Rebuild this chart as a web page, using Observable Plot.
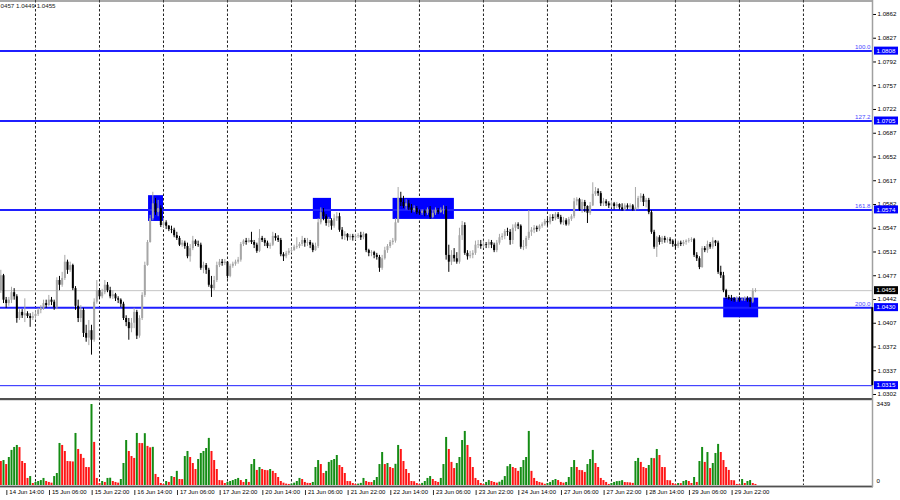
<!DOCTYPE html>
<html>
<head>
<meta charset="utf-8">
<script src="https://cdn.jsdelivr.net/npm/d3@7"></script>
<script src="https://cdn.jsdelivr.net/npm/@observablehq/plot@0.6"></script>
<style>
html, body { margin: 0; padding: 0; background: #fff; }
#chart { position: relative; width: 900px; height: 500px; overflow: hidden; background: #fff; }
#chart svg { position: absolute; left: 0; }
</style>
</head>
<body>
<div id="chart"></div>
<script>
// Hourly EURUSD bars, 14 Jun 11:00 .. 30 Jun 06:00 (weekends skipped)
const firstOpen = 1.0455;
const closes = [
1.0477,1.0441,1.0436,1.0441,1.0452,1.0446,1.0414,1.0423,1.0418,1.0421,1.0417,1.0414,
1.0417,1.0420,1.0426,1.0429,1.0436,1.0433,1.0441,1.0438,1.0430,1.0470,1.0463,1.0473,
1.0497,1.0485,1.0492,1.0458,1.0432,1.0414,1.0426,1.0392,1.0385,1.0396,1.0382,1.0438,
1.0455,1.0446,1.0452,1.0463,1.0455,1.0446,1.0449,1.0443,1.0441,1.0435,1.0414,1.0408,
1.0399,1.0407,1.0423,1.0388,1.0414,1.0448,1.0492,1.0526,1.0561,1.0583,1.0570,1.0576,
1.0551,1.0555,1.0550,1.0545,1.0544,1.0536,1.0532,1.0522,1.0525,1.0520,1.0505,1.0517,
1.0528,1.0523,1.0522,1.0488,1.0492,1.0485,1.0463,1.0458,1.0470,1.0492,1.0497,1.0495,
1.0497,1.0476,1.0491,1.0494,1.0497,1.0500,1.0523,1.0528,1.0526,1.0529,1.0526,1.0522,
1.0513,1.0532,1.0529,1.0525,1.0520,1.0522,1.0535,1.0532,1.0529,1.0508,1.0505,1.0510,
1.0513,1.0514,1.0519,1.0520,1.0523,1.0529,1.0525,1.0526,1.0522,1.0514,1.0520,1.0555,
1.0570,1.0564,1.0554,1.0558,1.0550,1.0561,1.0564,1.0544,1.0535,1.0538,1.0533,1.0535,
1.0533,1.0535,1.0536,1.0533,1.0538,1.0514,1.0510,1.0511,1.0507,1.0504,1.0488,1.0502,
1.0514,1.0520,1.0526,1.0528,1.0555,1.0591,1.0585,1.0579,1.0583,1.0577,1.0573,1.0576,
1.0570,1.0569,1.0572,1.0569,1.0574,1.0563,1.0569,1.0573,1.0570,1.0573,1.0574,1.0507,
1.0497,1.0507,1.0502,1.0497,1.0536,1.0551,1.0510,1.0505,1.0507,1.0510,1.0522,1.0523,
1.0520,1.0523,1.0522,1.0526,1.0522,1.0514,1.0525,1.0533,1.0535,1.0542,1.0541,1.0529,
1.0547,1.0552,1.0550,1.0519,1.0520,1.0532,1.0541,1.0544,1.0547,1.0545,1.0550,1.0552,
1.0557,1.0555,1.0563,1.0561,1.0567,1.0563,1.0555,1.0558,1.0552,1.0560,1.0564,1.0586,
1.0589,1.0574,1.0585,1.0579,1.0569,1.0580,1.0597,1.0601,1.0598,1.0583,1.0586,1.0583,
1.0580,1.0583,1.0579,1.0582,1.0577,1.0574,1.0580,1.0577,1.0580,1.0574,1.0577,1.0591,
1.0594,1.0585,1.0588,1.0570,1.0541,1.0519,1.0533,1.0526,1.0532,1.0529,1.0530,1.0528,
1.0523,1.0520,1.0525,1.0523,1.0526,1.0528,1.0529,1.0530,1.0507,1.0502,1.0489,1.0517,
1.0514,1.0523,1.0519,1.0528,1.0525,1.0482,1.0477,1.0455,1.0445,1.0443,1.0442,1.0441,
1.0443,1.0441,1.0442,1.0443,1.0441,1.0438,1.0454,1.0455
];
const highs = [
1.0485,1.0479,1.0445,1.0445,1.0460,1.0458,1.0449,1.0427,1.0427,1.0443,1.0424,1.0421,
1.0423,1.0424,1.0429,1.0433,1.0441,1.0441,1.0448,1.0445,1.0441,1.0474,1.0476,1.0482,
1.0507,1.0500,1.0497,1.0494,1.0461,1.0441,1.0433,1.0429,1.0404,1.0411,1.0404,1.0443,
1.0470,1.0458,1.0457,1.0470,1.0467,1.0460,1.0455,1.0451,1.0446,1.0443,1.0438,1.0418,
1.0414,1.0414,1.0429,1.0426,1.0418,1.0452,1.0497,1.0529,1.0566,1.0600,1.0591,1.0588,
1.0580,1.0561,1.0558,1.0551,1.0550,1.0547,1.0541,1.0535,1.0529,1.0528,1.0525,1.0523,
1.0535,1.0530,1.0528,1.0525,1.0497,1.0495,1.0488,1.0476,1.0476,1.0497,1.0501,1.0501,
1.0501,1.0498,1.0494,1.0497,1.0500,1.0504,1.0526,1.0530,1.0532,1.0532,1.0541,1.0529,
1.0525,1.0545,1.0535,1.0532,1.0528,1.0525,1.0541,1.0539,1.0536,1.0532,1.0511,1.0513,
1.0517,1.0517,1.0522,1.0533,1.0526,1.0535,1.0532,1.0532,1.0529,1.0525,1.0525,1.0561,
1.0577,1.0576,1.0567,1.0563,1.0561,1.0567,1.0570,1.0569,1.0548,1.0542,1.0539,1.0538,
1.0538,1.0538,1.0539,1.0541,1.0541,1.0539,1.0516,1.0514,1.0513,1.0510,1.0507,1.0507,
1.0519,1.0523,1.0529,1.0532,1.0561,1.0607,1.0600,1.0594,1.0589,1.0588,1.0582,1.0580,
1.0579,1.0574,1.0574,1.0574,1.0577,1.0579,1.0573,1.0577,1.0576,1.0577,1.0580,1.0579,
1.0522,1.0514,1.0517,1.0511,1.0547,1.0557,1.0555,1.0514,1.0513,1.0514,1.0528,1.0529,
1.0529,1.0528,1.0526,1.0530,1.0529,1.0525,1.0529,1.0538,1.0539,1.0545,1.0547,1.0545,
1.0552,1.0555,1.0555,1.0552,1.0529,1.0535,1.0573,1.0548,1.0551,1.0550,1.0552,1.0555,
1.0560,1.0561,1.0567,1.0567,1.0570,1.0570,1.0566,1.0563,1.0561,1.0563,1.0567,1.0591,
1.0592,1.0591,1.0589,1.0588,1.0580,1.0585,1.0614,1.0607,1.0605,1.0601,1.0591,1.0589,
1.0586,1.0586,1.0585,1.0585,1.0583,1.0583,1.0583,1.0583,1.0583,1.0582,1.0607,1.0594,
1.0598,1.0597,1.0591,1.0591,1.0573,1.0544,1.0535,1.0536,1.0535,1.0535,1.0533,1.0533,
1.0530,1.0528,1.0528,1.0528,1.0529,1.0530,1.0532,1.0533,1.0532,1.0511,1.0505,1.0520,
1.0520,1.0528,1.0526,1.0533,1.0529,1.0528,1.0491,1.0482,1.0457,1.0448,1.0448,1.0445,
1.0446,1.0446,1.0445,1.0446,1.0446,1.0445,1.0458,1.0458
];
const lows = [
1.0451,1.0436,1.0429,1.0432,1.0436,1.0441,1.0407,1.0411,1.0414,1.0408,1.0414,1.0401,
1.0411,1.0413,1.0417,1.0421,1.0426,1.0429,1.0432,1.0433,1.0426,1.0427,1.0455,1.0460,
1.0470,1.0479,1.0482,1.0455,1.0426,1.0408,1.0408,1.0386,1.0379,1.0374,1.0360,1.0379,
1.0435,1.0442,1.0443,1.0449,1.0452,1.0443,1.0442,1.0439,1.0436,1.0430,1.0411,1.0402,
1.0382,1.0393,1.0399,1.0383,1.0385,1.0411,1.0445,1.0491,1.0525,1.0558,1.0566,1.0564,
1.0548,1.0547,1.0545,1.0542,1.0539,1.0533,1.0529,1.0520,1.0519,1.0516,1.0502,1.0497,
1.0514,1.0520,1.0519,1.0485,1.0480,1.0479,1.0460,1.0445,1.0455,1.0467,1.0489,1.0491,
1.0492,1.0472,1.0474,1.0488,1.0491,1.0494,1.0497,1.0520,1.0522,1.0525,1.0523,1.0517,
1.0510,1.0511,1.0526,1.0520,1.0517,1.0516,1.0520,1.0528,1.0526,1.0505,1.0498,1.0502,
1.0507,1.0510,1.0513,1.0516,1.0517,1.0520,1.0519,1.0520,1.0517,1.0511,1.0513,1.0517,
1.0552,1.0558,1.0550,1.0548,1.0544,1.0547,1.0557,1.0541,1.0530,1.0529,1.0528,1.0529,
1.0528,1.0529,1.0532,1.0529,1.0530,1.0511,1.0505,1.0505,1.0502,1.0500,1.0482,1.0485,
1.0500,1.0510,1.0517,1.0522,1.0525,1.0554,1.0579,1.0576,1.0574,1.0573,1.0569,1.0570,
1.0567,1.0566,1.0566,1.0564,1.0566,1.0560,1.0561,1.0566,1.0567,1.0569,1.0567,1.0500,
1.0482,1.0492,1.0497,1.0494,1.0494,1.0529,1.0507,1.0500,1.0502,1.0502,1.0507,1.0517,
1.0516,1.0517,1.0517,1.0517,1.0517,1.0511,1.0511,1.0522,1.0529,1.0530,1.0535,1.0522,
1.0523,1.0542,1.0545,1.0516,1.0514,1.0516,1.0529,1.0535,1.0539,1.0541,1.0542,1.0547,
1.0550,1.0550,1.0552,1.0557,1.0558,1.0560,1.0552,1.0551,1.0550,1.0550,1.0557,1.0561,
1.0580,1.0572,1.0569,1.0570,1.0554,1.0566,1.0579,1.0594,1.0594,1.0579,1.0579,1.0579,
1.0576,1.0577,1.0574,1.0576,1.0574,1.0572,1.0572,1.0574,1.0574,1.0572,1.0572,1.0574,
1.0585,1.0579,1.0577,1.0567,1.0538,1.0516,1.0504,1.0522,1.0523,1.0525,1.0525,1.0523,
1.0519,1.0516,1.0517,1.0520,1.0520,1.0522,1.0525,1.0526,1.0504,1.0498,1.0486,1.0488,
1.0511,1.0510,1.0516,1.0516,1.0520,1.0479,1.0473,1.0452,1.0442,1.0441,1.0439,1.0438,
1.0438,1.0438,1.0439,1.0439,1.0438,1.0430,1.0436,1.0452
];
const volumes = [
1020,1060,890,1190,1490,1615,1700,1610,1020,935,300,380,85,
130,170,210,300,170,130,100,380,510,1785,1700,1445,1020,1010,1000,2210,1530,1320,1150,765,760,3439,1830,300,
85,170,130,300,310,170,130,100,255,935,1910,1445,1230,1150,2210,1785,1780,2200,1660,1600,1620,470,340,85,
45,170,130,380,340,600,255,250,1230,1445,1190,935,680,1105,1360,1445,1570,2000,1445,1060,680,210,200,85,
130,170,210,255,300,210,130,255,130,890,1105,640,765,680,640,630,680,600,510,340,170,100,60,45,
60,100,170,300,255,130,90,85,130,765,1060,890,510,600,980,1060,1105,1275,850,765,510,170,165,85,
45,60,90,300,170,130,125,210,340,890,1400,890,935,765,720,900,1700,1530,1020,680,510,170,160,85,
45,90,170,300,380,255,170,130,300,890,2040,1530,980,720,935,1190,1910,2295,1700,1190,765,300,210,85,
45,130,210,170,130,100,140,220,380,800,890,765,720,600,765,1060,1190,2295,600,300,170,130,100,50,
85,130,210,255,210,130,100,130,340,765,1060,765,640,630,555,890,1105,1490,935,765,300,210,130,45,
85,130,165,175,205,125,120,110,90,1020,1150,980,765,720,850,1150,1140,1530,1275,765,760,210,200,85,
45,85,80,170,210,170,85,340,130,1020,1615,980,1400,720,935,1360,1745,1400,1060,765,640,210,200,45,
40,255,85,170,210,85,45
];
const timeLabels = ["14 Jun 14:00","15 Jun 06:00","15 Jun 22:00","16 Jun 14:00","17 Jun 06:00","17 Jun 22:00",
  "20 Jun 14:00","21 Jun 06:00","21 Jun 22:00","22 Jun 14:00","23 Jun 06:00","23 Jun 22:00",
  "24 Jun 14:00","27 Jun 06:00","27 Jun 22:00","28 Jun 14:00","29 Jun 06:00","29 Jun 22:00"];
const priceTicks = [1.0302,1.0337,1.0372,1.0407,1.0442,1.0477,1.0512,1.0547,1.0582,1.0617,1.0652,1.0687,1.0722,1.0757,1.0792,1.0827,1.0862];
const fibLevels = [1.0808, 1.0705, 1.0574, 1.0430];
const fibNames = ["100.0", "127.2", "161.8", "200.0"];
const lowLevel = 1.0315;
const lastPrice = 1.0455;
const zoneStart = [55.4, 117.2, 147.1, 271.1];
const zoneEnd = [61.0, 124.0, 170.1, 284.2];
const zoneTop = [1.0595, 1.0591, 1.0591, 1.0444];
const zoneBottom = [1.0557, 1.0560, 1.0560, 1.0415];
const headerText = "0457 1.0449 1.0455";

// ---------- build tables ----------
const bars = closes.map((c, i) => {
  const open = i === 0 ? firstOpen : closes[i - 1];
  return {
    i, open, close: c,
    high: Math.max(highs[i], open, c),
    low: Math.min(lows[i], open, c),
    vol: volumes[i],
    volUp: i > 0 && volumes[i] > volumes[i - 1]
  };
});
const zones = zoneStart.map((s, k) => ({s, e: zoneEnd[k], top: zoneTop[k], bottom: zoneBottom[k]}));
const separators = d3.range(13, 302, 24);
const labelBars = timeLabels.map((_, k) => 3 + 16 * k);

const FONT = "Tahoma, 'Liberation Sans', 'DejaVu Sans', sans-serif";
const FS = 6.2;
const xDomain = [-0.125, 326.9];
const yDomain = [1.02961, 1.08826];
const bull = "#a6a6a6", bear = "#000000";
const candleColor = d => d.close > d.open ? bull : bear;
const fibBlue = "#1f1fff";

const price = Plot.plot({
  width: 900, height: 398,
  marginLeft: 0, marginRight: 28, marginTop: 0, marginBottom: 0,
  style: {fontFamily: FONT, fontSize: FS + "px", background: "transparent", overflow: "visible"},
  x: {domain: xDomain, axis: null},
  y: {domain: yDomain},
  color: {type: "identity"},
  marks: [
    Plot.ruleX(separators, {stroke: "#222", strokeDasharray: "2.5,2", strokeWidth: 1}),
    Plot.rect(zones, {x1: "s", x2: "e", y1: "bottom", y2: "top", fill: "#0000ff"}),
    Plot.ruleY([lastPrice], {stroke: "#c4c4c4", strokeWidth: 1}),
    Plot.ruleY([lowLevel], {stroke: fibBlue, strokeWidth: 1}),
    Plot.ruleY(fibLevels, {stroke: fibBlue, strokeWidth: 2}),
    Plot.ruleX(bars, {x: "i", y1: "low", y2: "high", stroke: candleColor, strokeWidth: 1}),
    Plot.ruleX(bars.filter(d => d.open !== d.close), {x: "i", y1: "open", y2: "close", stroke: candleColor, strokeWidth: 2}),
    Plot.ruleY(bars.filter(d => d.open === d.close), {y: "close", x1: d => d.i - 0.4, x2: d => d.i + 0.4, stroke: candleColor}),
    Plot.text(fibLevels, {frameAnchor: "right", y: d => d, text: (d, k) => fibNames[k], textAnchor: "end", dx: -2, dy: -4, fill: "#4848ff", fontSize: FS}),
    Plot.text([headerText], {frameAnchor: "top-left", lineAnchor: "middle", dy: 6, textAnchor: "start", fill: "#222", fontSize: FS}),
    Plot.axisY(priceTicks, {anchor: "right", tickFormat: d => d.toFixed(4), tickSize: 3, tickPadding: 2, fontSize: FS, fill: "#000", stroke: "#000", label: null})
  ]
});
price.style.top = "0px";

const volMax = d3.max(volumes);
const volume = Plot.plot({
  width: 900, height: 102,
  marginLeft: 0, marginRight: 28, marginTop: 0, marginBottom: 15,
  style: {fontFamily: FONT, fontSize: FS + "px", background: "transparent", overflow: "visible"},
  x: {domain: xDomain, axis: null},
  y: {domain: [0, volMax], range: [87, 6], axis: null},
  color: {type: "identity"},
  marks: [
    Plot.ruleX(separators, {stroke: "#222", strokeDasharray: "2.5,2", strokeWidth: 1}),
    Plot.ruleX(bars, {x: "i", y1: () => 0, y2: "vol", stroke: d => d.volUp ? "#148c14" : "#ff1414", strokeWidth: 2}),
    Plot.text([volMax], {frameAnchor: "right", y: d => d, text: d => String(d), textAnchor: "start", dx: 4, fill: "#000", fontSize: FS}),
    Plot.text([0], {frameAnchor: "right", y: d => d, text: d => String(d), textAnchor: "start", dx: 4, dy: -4, fill: "#000", fontSize: FS}),
    Plot.text(timeLabels, {x: (d, k) => labelBars[k], frameAnchor: "bottom", dy: 8, dx: 0.5, textAnchor: "start", text: d => d, fill: "#000", fontSize: 6})
  ]
});
volume.style.top = "398px";

// ---------- frame lines and price boxes ----------
const ps = d3.select(price);
const yS = price.scale("y");
ps.append("line").attr("x1", 0).attr("x2", 873).attr("y1", 1).attr("y2", 1).attr("stroke", "#555").attr("stroke-width", 1.2);
ps.append("line").attr("x1", 872.5).attr("x2", 872.5).attr("y1", 0).attr("y2", 398).attr("stroke", "#a0a0a0").attr("stroke-width", 1.5);
ps.append("line").attr("x1", 872.3).attr("x2", 872.3)
  .attr("y1", yS.apply(fibLevels[3])).attr("y2", yS.apply(lowLevel))
  .attr("stroke", "#000").attr("stroke-width", 2);
function priceBox(value, bg) {
  const y = yS.apply(value);
  ps.append("rect").attr("x", 874).attr("y", y - 4).attr("width", 24).attr("height", 8).attr("fill", bg);
  ps.append("text").attr("x", 876.5).attr("y", y).attr("dy", "0.35em").attr("fill", "#fff")
    .attr("text-anchor", "start").attr("font-size", FS).attr("font-family", FONT).text(value.toFixed(4));
}
fibLevels.forEach(v => priceBox(v, "#0000ff"));
priceBox(lowLevel, "#0000ff");
priceBox(lastPrice, "#000000");

const vs = d3.select(volume);
const xV = volume.scale("x");
vs.append("rect").attr("x", 0).attr("y", 0).attr("width", 873).attr("height", 2.2).attr("fill", "#505050");
vs.append("rect").attr("x", 0).attr("y", 87.6).attr("width", 873).attr("height", 1.8).attr("fill", "#505050");
vs.append("line").attr("x1", 872.5).attr("x2", 872.5).attr("y1", 0).attr("y2", 89).attr("stroke", "#a0a0a0").attr("stroke-width", 1.5);
labelBars.forEach(b => {
  const x = xV.apply(b);
  vs.append("line").attr("x1", x - 1.5).attr("x2", x - 1.5).attr("y1", 92).attr("y2", 97).attr("stroke", "#333").attr("stroke-width", 1);
});

const host = document.getElementById("chart");
host.appendChild(price);
host.appendChild(volume);
</script>
</body>
</html>
